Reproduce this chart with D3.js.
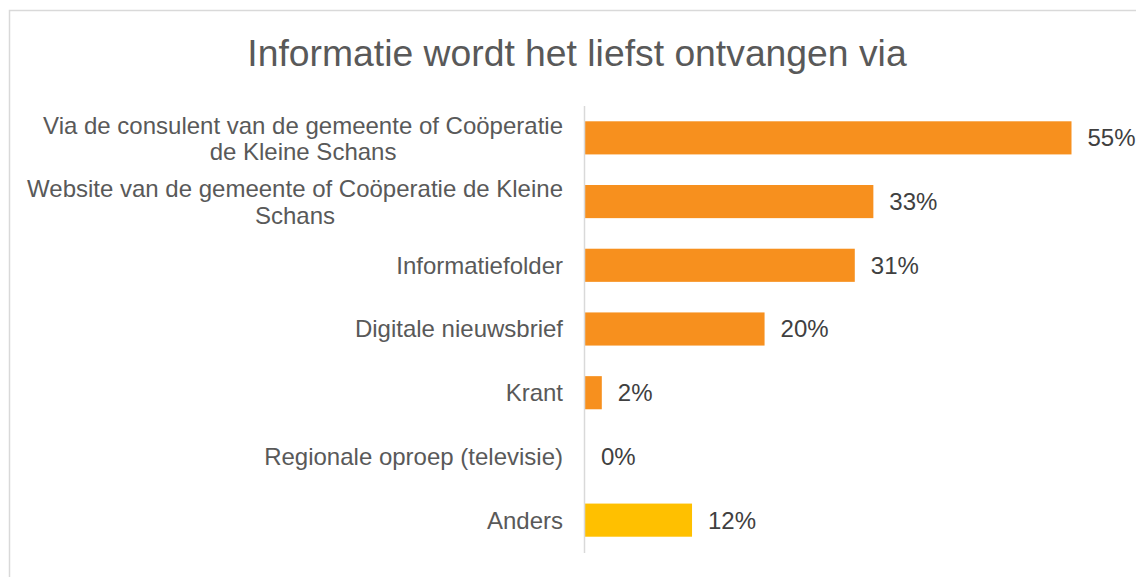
<!DOCTYPE html>
<html>
<head>
<meta charset="utf-8">
<script src="https://cdnjs.cloudflare.com/ajax/libs/d3/7.8.5/d3.min.js"></script>
<style>
  body { margin: 0; background: #fff; }
  text { font-family: "Liberation Sans", Arial, sans-serif; }
</style>
</head>
<body>
<div id="chart"></div>
<script>
var title = "Informatie wordt het liefst ontvangen via";
var categories = [
    "Via de consulent van de gemeente of Coöperatie de Kleine Schans",
    "Website van de gemeente of Coöperatie de Kleine Schans",
    "Informatiefolder",
    "Digitale nieuwsbrief",
    "Krant",
    "Regionale oproep (televisie)",
    "Anders"
];
var values = [0.55, 0.326, 0.305, 0.203, 0.019, 0, 0.121];
var barColors = ["#f7901e", "#f7901e", "#f7901e", "#f7901e", "#f7901e", "#f7901e", "#ffc000"];

(function () {
    var width = 1136,
        height = 577;

    var svg = d3.select("#chart")
        .append("svg")
        .attr("width", width)
        .attr("height", height);

    // chart area border (runs off the right/bottom edge like the source)
    svg.append("rect")
        .attr("x", 9.5)
        .attr("y", 10.5)
        .attr("width", 1140)
        .attr("height", 580)
        .attr("fill", "#fff")
        .attr("stroke", "#d9d9d9")
        .attr("stroke-width", 1.5);

    svg.append("text")
        .attr("x", 577)
        .attr("y", 66)
        .attr("text-anchor", "middle")
        .style("font-size", "37.3px")
        .style("fill", "#595959")
        .text(title);

    var x = d3.scaleLinear().domain([0, 0.55]).range([585, 1071.5]);
    var y = d3.scaleBand()
        .domain(categories)
        .range([106, 552])
        .paddingInner(0.48)
        .paddingOuter(0.24);

    var fmt = d3.format(".0%");

    svg.selectAll(".bar")
        .data(categories)
        .enter().append("rect")
        .attr("class", "bar")
        .attr("x", x(0))
        .attr("y", function (d) { return y(d); })
        .attr("width", function (d, i) { return x(values[i]) - x(0); })
        .attr("height", y.bandwidth())
        .attr("fill", function (d, i) { return barColors[i]; });

    // axis line
    svg.append("line")
        .attr("x1", 584.5).attr("x2", 584.5)
        .attr("y1", 106).attr("y2", 553)
        .attr("stroke", "#d9d9d9")
        .attr("stroke-width", 1.5);

    svg.selectAll(".val")
        .data(categories)
        .enter().append("text")
        .attr("class", "val")
        .attr("x", function (d, i) { return x(values[i]) + 16; })
        .attr("y", function (d) { return y(d) + y.bandwidth() / 2; })
        .attr("dy", "0.35em")
        .style("font-size", "24px")
        .style("fill", "#404040")
        .text(function (d, i) { return fmt(values[i]); });

    // category labels, wrapped and centred like Excel does
    var maxW = 542, rightX = 563, lineH = 26.5, fs = "24px";
    var labels = svg.append("g");
    categories.forEach(function (c) {
        var words = c.split(" "), lines = [], cur = [];
        var probe = labels.append("text").style("font-size", fs);
        words.forEach(function (w) {
            cur.push(w);
            probe.text(cur.join(" "));
            if (probe.node().getComputedTextLength() > maxW && cur.length > 1) {
                cur.pop();
                lines.push(cur.join(" "));
                cur = [w];
            }
        });
        lines.push(cur.join(" "));
        var widest = 0;
        lines.forEach(function (l) {
            probe.text(l);
            widest = Math.max(widest, probe.node().getComputedTextLength());
        });
        probe.remove();
        var cy = y(c) + y.bandwidth() / 2;
        var cx = rightX - widest / 2;
        var multi = lines.length > 1;
        var t = labels.append("text")
            .attr("text-anchor", multi ? "middle" : "end")
            .style("font-size", fs)
            .style("fill", "#595959");
        lines.forEach(function (l, i) {
            t.append("tspan")
                .attr("x", multi ? cx : rightX)
                .attr("y", cy + (i - (lines.length - 1) / 2) * lineH + (multi ? 0.5 : 0))
                .attr("dy", "0.35em")
                .text(l);
        });
    });
})();
</script>
</body>
</html>
